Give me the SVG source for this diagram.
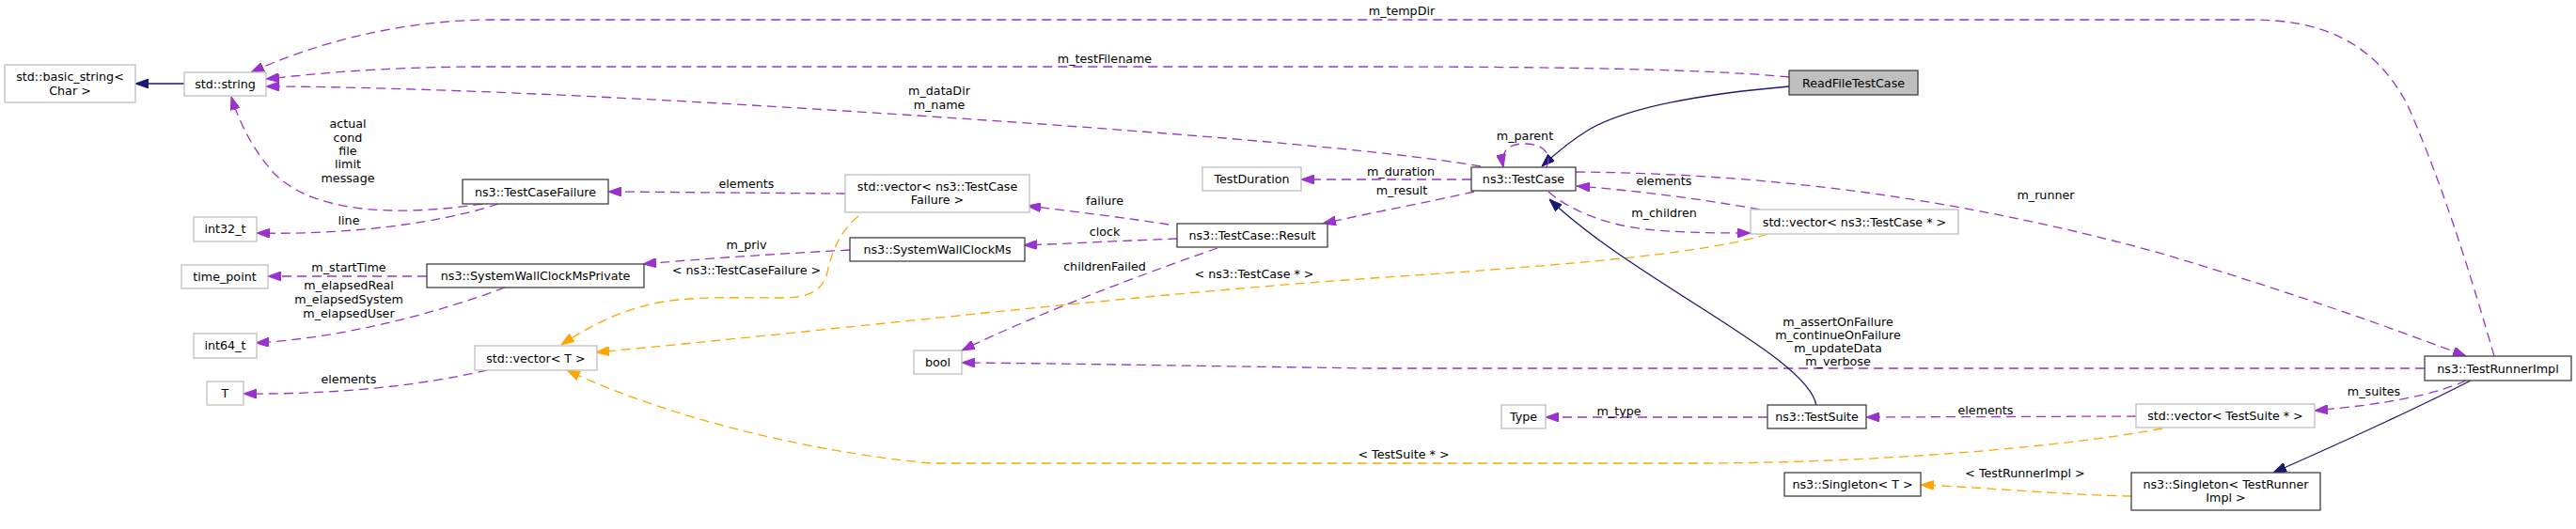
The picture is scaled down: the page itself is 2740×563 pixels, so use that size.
<svg xmlns="http://www.w3.org/2000/svg" width="2740" height="563" viewBox="0 0 2740 563">
<defs>
<marker id="ap" markerUnits="userSpaceOnUse" markerWidth="14" markerHeight="10" viewBox="0 0 14 10" refX="14" refY="5" orient="auto"><path d="M0,0 L14,5 L0,10 Z" fill="#9a32cd" stroke="#9a32cd"/></marker>
<marker id="ao" markerUnits="userSpaceOnUse" markerWidth="14" markerHeight="10" viewBox="0 0 14 10" refX="14" refY="5" orient="auto"><path d="M0,0 L14,5 L0,10 Z" fill="#ffa500" stroke="#ffa500"/></marker>
<marker id="an" markerUnits="userSpaceOnUse" markerWidth="14" markerHeight="10" viewBox="0 0 14 10" refX="14" refY="5" orient="auto"><path d="M0,0 L14,5 L0,10 Z" fill="#191970" stroke="#191970"/></marker>
</defs>
<style>
text{font-family:"DejaVu Sans","Liberation Sans",sans-serif;font-size:12.7px;fill:#000;text-anchor:middle}
.n rect{fill:#fff;stroke:#404040;stroke-width:1.3}
.g rect{fill:#fff;stroke:#bfbfbf;stroke-width:1.3}
.h rect{fill:#bfbfbf;stroke:#404040;stroke-width:1.3}
.p{fill:none;stroke:#9a32cd;stroke-width:1.3;stroke-dasharray:10,6;marker-end:url(#ap)}
.o{fill:none;stroke:#ffa500;stroke-width:1.3;stroke-dasharray:10,6;marker-end:url(#ao)}
.s{fill:none;stroke:#191970;stroke-width:1.3;marker-end:url(#an)}
</style>
<rect width="2740" height="563" fill="#fff"/>
<g id="connectors">
<path class="s" d="M196,89 L144,89"/>
<path class="p" d="M2653,379 C2630,300 2600,200 2560,110 C2525,45 2470,21 2395,21 L520,21 C420,22 330,48 267,77"/>
<path class="p" d="M1903,82 C1800,72 1600,71 1440,71 L500,71 C400,72 340,78 283,84"/>
<path class="p" d="M1575,177 C1450,155 1100,130 800,112 C600,100 400,92 283,92"/>
<path class="s" d="M1903,92 C1810,100 1730,115 1690,138 C1670,150 1655,163 1640,177"/>
<path class="p" d="M1645,178 C1652,162 1640,153 1621,153 C1603,153 1596,162 1599,178"/>
<path class="p" d="M1565,191 L1384,191"/>
<path class="p" d="M1568,204 C1520,215 1460,226 1407,238"/>
<path class="p" d="M1676,183 C1900,185 2100,215 2300,270 C2450,315 2560,355 2623,379"/>
<path class="p" d="M1872,223 C1800,210 1730,202 1677,198"/>
<path class="p" d="M1647,204 C1665,220 1700,238 1750,244 C1790,248 1830,248 1862,248"/>
<path class="o" d="M1880,249 C1820,268 1700,280 1460,296 C1200,314 900,350 634,375"/>
<path class="p" d="M1243,239 C1200,232 1140,225 1093,219"/>
<path class="p" d="M1252,254 C1200,256 1140,259 1089,261"/>
<path class="p" d="M1295,264 C1220,290 1100,335 1023,373"/>
<path class="p" d="M2579,392 L1460,392 C1300,390 1150,387 1023,386"/>
<path class="p" d="M899,206 L647,204"/>
<path class="o" d="M913,230 C895,245 885,265 880,290 C875,310 860,317 830,317 C780,317 740,315 700,322 C660,330 625,348 597,367"/>
<path class="p" d="M904,266 C830,270 750,275 684,281"/>
<path class="p" d="M513,217 C440,228 340,232 292,185 C272,163 256,135 246,103"/>
<path class="p" d="M530,217 C460,240 360,250 273,248"/>
<path class="p" d="M454,294 L285,294"/>
<path class="p" d="M537,306 C460,335 360,360 272,365"/>
<path class="p" d="M518,394 C450,410 360,420 259,419"/>
<path class="o" d="M2300,456 C2200,475 2000,493 1800,493 L990,493 C850,480 700,440 603,394"/>
<path class="s" d="M1932,432 C1925,380 1740,300 1648,212"/>
<path class="p" d="M1880,444 L1644,444"/>
<path class="p" d="M2272,443 L1985,444"/>
<path class="p" d="M2623,405 C2590,420 2540,430 2462,437"/>
<path class="s" d="M2628,405 C2550,445 2470,480 2418,503"/>
<path class="o" d="M2267,528 C2200,527 2100,518 2043,516"/>
</g>
<g id="labels">
<text x="370" y="136">actual</text>
<text x="370" y="151">cond</text>
<text x="370" y="165">file</text>
<text x="370" y="179">limit</text>
<text x="370" y="194">message</text>
<text x="371" y="239">line</text>
<text x="371" y="289">m_startTime</text>
<text x="371" y="308">m_elapsedReal</text>
<text x="371" y="323">m_elapsedSystem</text>
<text x="371" y="338">m_elapsedUser</text>
<text x="371" y="408">elements</text>
<text x="794" y="200">elements</text>
<text x="794" y="265">m_priv</text>
<text x="794" y="292">&lt; ns3::TestCaseFailure &gt;</text>
<text x="1175" y="218">failure</text>
<text x="1175" y="251">clock</text>
<text x="1175" y="288">childrenFailed</text>
<text x="1334" y="296">&lt; ns3::TestCase * &gt;</text>
<text x="1175" y="67">m_testFilename</text>
<text x="999" y="101">m_dataDir</text>
<text x="999" y="116">m_name</text>
<text x="1491" y="16">m_tempDir</text>
<text x="1622" y="149">m_parent</text>
<text x="1490" y="187">m_duration</text>
<text x="1491" y="207">m_result</text>
<text x="1770" y="197">elements</text>
<text x="1770" y="231">m_children</text>
<text x="2176" y="212">m_runner</text>
<text x="1955" y="347">m_assertOnFailure</text>
<text x="1955" y="361">m_continueOnFailure</text>
<text x="1955" y="375">m_updateData</text>
<text x="1955" y="389">m_verbose</text>
<text x="1493" y="488">&lt; TestSuite * &gt;</text>
<text x="1722" y="442">m_type</text>
<text x="2112" y="441">elements</text>
<text x="2525" y="421">m_suites</text>
<text x="2154" y="508">&lt; TestRunnerImpl &gt;</text>
</g>
<g id="n_readfile" class="h"><rect x="1903" y="75" width="137" height="26"/><text x="1971.5" y="92.5">ReadFileTestCase</text></g>
<g id="n_testcase" class="n"><rect x="1565" y="178" width="111" height="25"/><text x="1620.5" y="195">ns3::TestCase</text></g>
<g id="n_string" class="g"><rect x="196" y="77" width="87" height="25"/><text x="239.5" y="94">std::string</text></g>
<g id="n_basic_string" class="g"><rect x="5" y="69" width="139" height="40"/><text x="74.5" y="85.5">std::basic_string&lt;</text><text x="74.5" y="100.5">Char &gt;</text></g>
<g id="n_tcfailure" class="n"><rect x="492" y="191" width="155" height="26"/><text x="569.5" y="208.5">ns3::TestCaseFailure</text></g>
<g id="n_int32" class="g"><rect x="206" y="231" width="67" height="26"/><text x="239.5" y="248">int32_t</text></g>
<g id="n_timepoint" class="g"><rect x="193" y="282" width="92" height="25"/><text x="239" y="299">time_point</text></g>
<g id="n_swcmpriv" class="n"><rect x="454" y="281" width="231" height="25"/><text x="569.5" y="298">ns3::SystemWallClockMsPrivate</text></g>
<g id="n_int64" class="g"><rect x="206" y="355" width="67" height="26"/><text x="239.5" y="372">int64_t</text></g>
<g id="n_T" class="g"><rect x="220" y="406" width="39" height="25"/><text x="239.5" y="423">T</text></g>
<g id="n_vecT" class="g"><rect x="505" y="368" width="130" height="26"/><text x="570" y="385.5">std::vector&lt; T &gt;</text></g>
<g id="n_vecfail" class="g"><rect x="899" y="186" width="196" height="40"/><text x="997" y="202.5">std::vector&lt; ns3::TestCase</text><text x="997" y="216.5">Failure &gt;</text></g>
<g id="n_swcm" class="n"><rect x="904" y="253" width="186" height="25"/><text x="997" y="270">ns3::SystemWallClockMs</text></g>
<g id="n_result" class="n"><rect x="1252" y="238" width="160" height="25"/><text x="1332" y="255">ns3::TestCase::Result</text></g>
<g id="n_duration" class="g"><rect x="1279" y="178" width="105" height="25"/><text x="1331.5" y="195">TestDuration</text></g>
<g id="n_bool" class="g"><rect x="972" y="373" width="51" height="25"/><text x="997.5" y="390">bool</text></g>
<g id="n_vectc" class="g"><rect x="1862" y="223" width="221" height="26"/><text x="1972.5" y="240.5">std::vector&lt; ns3::TestCase * &gt;</text></g>
<g id="n_runnerimpl" class="n"><rect x="2579" y="379" width="156" height="26"/><text x="2657" y="396.5">ns3::TestRunnerImpl</text></g>
<g id="n_vects" class="g"><rect x="2272" y="430" width="190" height="25"/><text x="2367" y="447">std::vector&lt; TestSuite * &gt;</text></g>
<g id="n_singleton_tri" class="n"><rect x="2267" y="503" width="201" height="40"/><text x="2367.5" y="519.5">ns3::Singleton&lt; TestRunner</text><text x="2367.5" y="533.5">Impl &gt;</text></g>
<g id="n_type" class="g"><rect x="1597" y="431" width="47" height="25"/><text x="1620.5" y="448">Type</text></g>
<g id="n_testsuite" class="n"><rect x="1880" y="431" width="105" height="25"/><text x="1932.5" y="448">ns3::TestSuite</text></g>
<g id="n_singleton_t" class="n"><rect x="1898" y="503" width="145" height="25"/><text x="1970.5" y="520">ns3::Singleton&lt; T &gt;</text></g>
</svg>
